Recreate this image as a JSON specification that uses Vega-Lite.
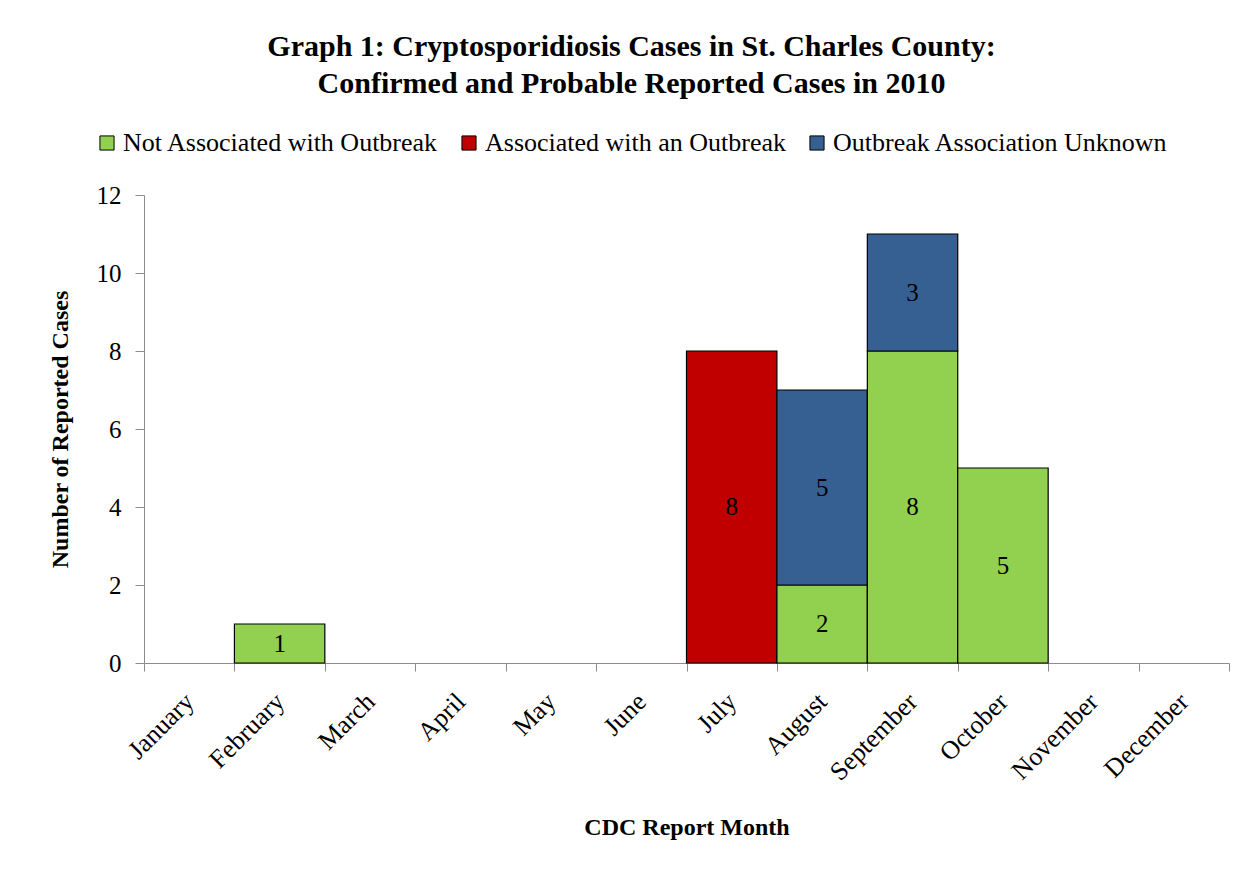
{
  "$schema": "https://vega.github.io/schema/vega-lite/v6.json",
  "width": 1085,
  "height": 468,
  "autosize": {"type": "none"},
  "padding": {"left": 144, "top": 195, "right": 15, "bottom": 206},
  "background": "white",
  "title": {
    "text": ["Graph 1: Cryptosporidiosis Cases in St. Charles County:", "Confirmed and Probable Reported Cases in 2010"],
    "font": "Liberation Serif",
    "fontSize": 30,
    "fontWeight": "bold",
    "color": "black",
    "lineHeight": 37,
    "anchor": "middle",
    "dx": -55,
    "offset": 31
  },
  "data": {
    "values": [
      {"month": "February", "group": "Not Associated with Outbreak", "cases": 1},
      {"month": "July", "group": "Associated with an Outbreak", "cases": 8},
      {"month": "August", "group": "Not Associated with Outbreak", "cases": 2},
      {"month": "August", "group": "Outbreak Association Unknown", "cases": 5},
      {"month": "September", "group": "Not Associated with Outbreak", "cases": 8},
      {"month": "September", "group": "Outbreak Association Unknown", "cases": 3},
      {"month": "October", "group": "Not Associated with Outbreak", "cases": 5}
    ]
  },
  "transform": [
    {"stack": "cases", "groupby": ["month"], "sort": [{"field": "group", "order": "ascending"}], "as": ["y0", "y1"]},
    {"calculate": "(datum.y0 + datum.y1) / 2", "as": "mid"}
  ],
  "encoding": {
    "x": {
      "field": "month",
      "type": "nominal",
      "scale": {
        "domain": ["January", "February", "March", "April", "May", "June", "July", "August", "September", "October", "November", "December"],
        "paddingInner": 0,
        "paddingOuter": 0
      },
      "axis": {
        "title": "CDC Report Month",
        "titleFont": "Liberation Serif",
        "titleFontSize": 24,
        "titleFontWeight": "bold",
        "titleColor": "black",
        "titleY": 164,
        "titleBaseline": "middle",
        "labelFont": "Liberation Serif",
        "labelFontSize": 26,
        "labelColor": "black",
        "labelAngle": -45,
        "labelPadding": 17,
        "labelOffset": -9,
        "tickBand": "extent",
        "tickSize": 8,
        "tickColor": "#8c8c8c",
        "domainColor": "#8c8c8c",
        "grid": false
      }
    }
  },
  "layer": [
    {
      "mark": {"type": "bar", "stroke": "black", "strokeWidth": 1.2},
      "encoding": {
        "y": {
          "field": "y1",
          "type": "quantitative",
          "scale": {"domain": [0, 12]},
          "axis": {
            "title": "Number of Reported Cases",
            "titleFont": "Liberation Serif",
            "titleFontSize": 24,
            "titleFontWeight": "bold",
            "titleColor": "black",
            "titleX": -84,
            "titleY": 234,
            "titleBaseline": "middle",
            "titleAngle": -90,
            "labelFont": "Liberation Serif",
            "labelFontSize": 25,
            "labelColor": "black",
            "labelPadding": 14,
            "values": [0, 2, 4, 6, 8, 10, 12],
            "tickSize": 9,
            "tickColor": "#8c8c8c",
            "domainColor": "#8c8c8c",
            "grid": false
          }
        },
        "y2": {"field": "y0"},
        "color": {
          "field": "group",
          "type": "nominal",
          "scale": {
            "domain": ["Not Associated with Outbreak", "Associated with an Outbreak", "Outbreak Association Unknown"],
            "range": ["#92D050", "#C00000", "#376092"]
          },
          "legend": {
            "title": null,
            "orient": "none",
            "direction": "horizontal",
            "legendX": -50,
            "legendY": -65,
            "symbolType": "square",
            "symbolSize": 200,
            "symbolStrokeColor": "black",
            "symbolStrokeWidth": 1,
            "symbolOpacity": 1,
            "labelFont": "Liberation Serif",
            "labelFontSize": 26,
            "labelColor": "black",
            "labelLimit": 0,
            "labelOffset": 3,
            "columnPadding": 17
          }
        }
      }
    },
    {
      "mark": {"type": "text", "font": "Liberation Serif", "fontSize": 25, "color": "black", "baseline": "middle"},
      "encoding": {
        "y": {"field": "mid", "type": "quantitative"},
        "text": {"field": "cases", "type": "quantitative"}
      }
    }
  ],
  "config": {
    "view": {"stroke": null}
  }
}
